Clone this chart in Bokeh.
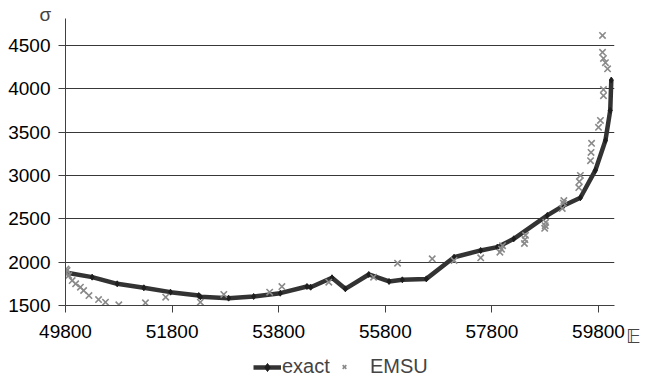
from bokeh.plotting import figure
from bokeh.layouts import row, column
from bokeh.models import Range1d, FixedTicker, Legend, LegendItem, Title, Div
from bokeh.embed import file_html
from bokeh.resources import INLINE

exact_x = [49800, 50300, 50770, 51270, 51770, 52300, 52330, 52860, 53330, 53830, 54330, 54400,
           54800, 55050, 55490, 55870, 56120, 56570, 57090, 57590, 57900, 58210, 58840, 59150,
           59460, 59740, 59930, 60020, 60040]
exact_y = [1880, 1827, 1750, 1704, 1654, 1615, 1600, 1585, 1604, 1642, 1719, 1711,
           1820, 1692, 1858, 1777, 1796, 1807, 2057, 2135, 2173, 2269, 2539, 2654,
           2743, 3058, 3404, 3750, 4100]

emsu_x = [49800, 49810, 49820, 49830, 49860, 49925, 49990, 50080, 50140, 50240, 50420, 50550,
          50800, 51300, 51680, 52330, 52770, 53630, 53860, 54740, 55580, 56030, 56680, 57090,
          57590, 57950, 57980, 58000, 58410, 58420, 58430, 58790, 58800, 58810, 59120, 59140,
          59150, 59430, 59440, 59460, 59650, 59660, 59670, 59800, 59836, 59893, 59893, 59875,
          59893, 59930, 59970, 59875]
emsu_y = [1880, 1920, 1860, 1904, 1846, 1788, 1750, 1711, 1673, 1615, 1569, 1538,
          1508, 1531, 1596, 1538, 1627, 1654, 1719, 1769, 1827, 1988, 2038, 2019,
          2050, 2115, 2150, 2190, 2215, 2260, 2310, 2390, 2420, 2460, 2620, 2680,
          2710, 2860, 2930, 3000, 3170, 3265, 3370, 3555, 3635, 3920, 3990, 4420,
          4350, 4300, 4230, 4615]

x_ticks = [49800, 51800, 53800, 55800, 57800, 59800]
y_ticks = [1500, 2000, 2500, 3000, 3500, 4000, 4500]
y_label = "σ"
x_label = "𝔼"
series_names = ["exact", "EMSU"]

FONT = "Liberation Sans"
FS = "19px"
LINE_C = "#333333"
DOT_C = "#1e1e1e"
CROSS_C = "#8a8a8a"
MAIN_W, MAIN_H = 626, 347


def style_exact(fig, xs, ys):
    r1 = fig.line(xs, ys, line_color=LINE_C, line_width=4.5, line_join="round")
    r2 = fig.scatter(xs, ys, marker="diamond", size=6, color=DOT_C)
    return r1, r2


def style_emsu(fig, xs, ys):
    return fig.scatter(xs, ys, marker="x", size=9, line_color=CROSS_C, line_width=1.6)


p = figure(width=MAIN_W, height=MAIN_H, output_backend="svg", toolbar_location=None,
           x_range=Range1d(49800, 60100), y_range=Range1d(1500, 4810),
           min_border_left=65, min_border_right=12, min_border_top=18, min_border_bottom=42)
p.outline_line_color = None

for ax in (p.xaxis[0], p.yaxis[0]):
    ax.axis_line_color = "#404040"
    ax.major_tick_line_color = "#404040"
    ax.major_tick_in = 0
    ax.major_tick_out = 7
    ax.minor_tick_line_color = None
    ax.major_label_text_font = FONT
    ax.major_label_text_font_size = FS
    ax.major_label_text_color = "black"

p.xaxis.ticker = FixedTicker(ticks=x_ticks)
p.yaxis.ticker = FixedTicker(ticks=y_ticks)
p.xaxis.major_label_standoff = 12
p.yaxis.major_label_standoff = 8

p.xgrid.grid_line_color = None
p.ygrid.ticker = FixedTicker(ticks=y_ticks)
p.ygrid.grid_line_color = "#383838"
p.ygrid.grid_line_width = 1

style_exact(p, exact_x, exact_y)
style_emsu(p, emsu_x, emsu_y)

p.add_layout(Title(text=y_label, align="left", offset=-26, standoff=-12,
                   text_font=FONT, text_font_size=FS, text_font_style="normal"), "above")

# x-axis symbol, to the right of the last tick label
ediv = Div(text=('<div style="padding-top:325px;width:14px;text-align:center;'
                 'font-family:\'DejaVu Sans\',sans-serif;font-size:20px;'
                 'line-height:22px;color:#444444;">' + x_label + '</div>'),
           width=646 - MAIN_W, height=MAIN_H, margin=0)

# strip below holding the legend (its renderers lie outside its own ranges)
LEG_H = 378 - MAIN_H
lf = figure(width=646, height=LEG_H, output_backend="svg", toolbar_location=None,
            x_range=Range1d(0, 1), y_range=Range1d(0, 1),
            min_border=0, x_axis_type=None, y_axis_type=None)
lf.outline_line_color = None
lf.grid.visible = False
l1, l2 = style_exact(lf, exact_x, exact_y)
l3 = style_emsu(lf, emsu_x, emsu_y)
common = dict(orientation="horizontal", label_text_font=FONT, label_text_font_size="20px",
              border_line_alpha=0, background_fill_alpha=0, padding=0, margin=0)
leg1 = Legend(items=[LegendItem(label=series_names[0], renderers=[l1, l2])],
              location=(253, 0), glyph_width=28, glyph_height=20, label_standoff=1, **common)
leg2 = Legend(items=[LegendItem(label=series_names[1], renderers=[l3])],
              location=(334, 0), glyph_width=20, glyph_height=13, label_standoff=16, **common)
lf.add_layout(leg1, "center")
lf.add_layout(leg2, "center")

layout = column(row(p, ediv, spacing=0), lf, spacing=0)
open("out.html", "w").write(file_html(layout, INLINE))
